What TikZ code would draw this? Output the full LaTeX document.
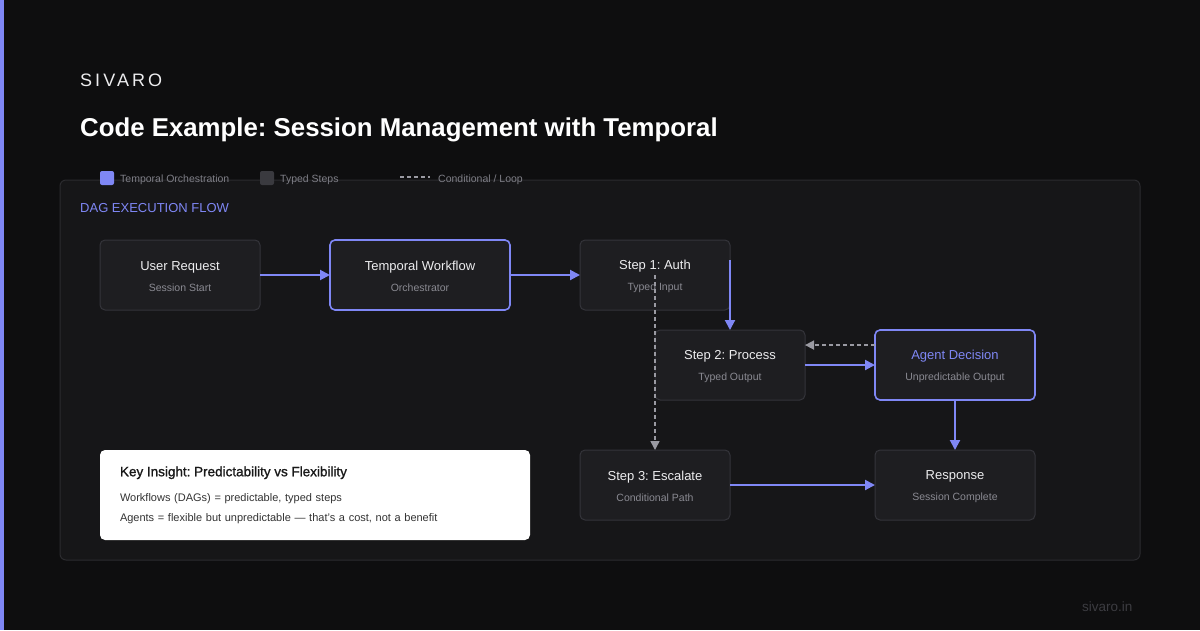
\documentclass[tikz,border=0pt]{standalone}
\usepackage{fontspec}
\setmainfont{Liberation Sans}
\newfontfamily\brandfont[LetterSpace=17]{Liberation Sans}
\newfontfamily\headfont[FakeBold=1.2]{Liberation Sans}
\usetikzlibrary{arrows.meta,positioning}
\frenchspacing
\definecolor{bgDark}{HTML}{0E0E0F}
\definecolor{panelBg}{HTML}{161618}
\definecolor{panelLine}{HTML}{2B2B2F}
\definecolor{boxBg}{HTML}{1E1E21}
\definecolor{boxLine}{HTML}{34343A}
\definecolor{accent}{HTML}{7F87F5}
\definecolor{titleWhite}{HTML}{EDEDEF}
\definecolor{subGray}{HTML}{8A8A92}
\definecolor{dashGray}{HTML}{9A9AA2}
\definecolor{legGray}{HTML}{7E7E86}
\definecolor{squareGray}{HTML}{3A3A3F}
\definecolor{footGray}{HTML}{3C3C41}
\newcommand{\boxtxt}[2]{\rule{0pt}{11.5pt}#1\\{\fontsize{10.5}{21}\selectfont\color{subGray}#2}}
\tikzset{
  stepbox/.style={rectangle, rounded corners=5pt, draw=boxLine, line width=1pt, fill=boxBg, minimum width=150pt, minimum height=70pt, align=center, text=titleWhite, font=\fontsize{13}{21}\selectfont, inner sep=0pt, outer sep=0pt},
  orchbox/.style={stepbox, draw=accent, line width=1.6pt},
  label/.style={anchor=west, inner sep=0pt},
  legsq/.style={rectangle, rounded corners=2pt, minimum size=14pt, inner sep=0pt},
  flow/.style={-{Triangle[length=10pt,width=10pt]}, line width=2pt, draw=accent},
  loop/.style={-{Triangle[length=9pt,width=9pt]}, line width=1.5pt, draw=dashGray, dash pattern=on 4pt off 3pt}
}
\begin{document}
\begin{tikzpicture}[x=1pt, y=-1pt, node distance=70pt]
  \fill[bgDark] (0,0) rectangle (1200,630);
  \useasboundingbox (0,0) rectangle (1200,630);
  \fill[accent] (0,0) rectangle (4,630);
  \node[label, text=titleWhite, font=\brandfont\fontsize{18}{18}\selectfont] (brand) at (80,80) {SIVARO};
  \node[label, text=white, font=\fontsize{25.8}{26}\selectfont\bfseries] (title) at (80,130) {Code Example: Session Management with Temporal};
  % panel
  \draw[panelLine, fill=panelBg, line width=1pt, rounded corners=6pt] (60,180) rectangle (1140,560);
  % legend
  \node[legsq, fill=accent] (legOrch) at (107,178) {};
  \node[label, text=legGray, font=\fontsize{10.5}{12}\selectfont] (legOrchTxt) at (120,180) {Temporal Orchestration};
  \node[legsq, fill=squareGray] (legStep) at (267,178) {};
  \node[label, text=legGray, font=\fontsize{10.5}{12}\selectfont] (legStepTxt) at (280,180) {Typed Steps};
  \coordinate (dashA) at (400,177);
  \coordinate (dashB) at (430,177);
  \draw[dashGray, line width=1.5pt, dash pattern=on 4pt off 3pt] (dashA) -- (dashB);
  \node[label, text=legGray, font=\fontsize{10.5}{12}\selectfont] (legLoop) at (438,180) {Conditional / Loop};
  \node[label, text=accent, font=\fontsize{13}{13}\selectfont] (flowhead) at (80,208) {DAG EXECUTION FLOW};
  % flow nodes
  \node[stepbox, minimum width=160pt] (user) at (180,275) {\boxtxt{User Request}{Session Start}};
  \node[orchbox, minimum width=180pt, right=of user] (workflow) {\boxtxt{Temporal Workflow}{Orchestrator}};
  \node[stepbox, right=of workflow] (auth) {\boxtxt{Step 1: Auth}{Typed Input}};
  \node[stepbox] (process) at (730,365) {\boxtxt{Step 2: Process}{Typed Output}};
  \node[orchbox, minimum width=160pt, right=of process, text=accent] (agent) {\boxtxt{Agent Decision}{Unpredictable Output}};
  \node[stepbox, below=140pt of auth] (escalate) {\boxtxt{Step 3: Escalate}{Conditional Path}};
  \node[stepbox, minimum width=160pt, below=50pt of agent] (response) {\boxtxt{Response}{Session Complete}};
  % connectors
  \draw[flow] (user) -- (workflow);
  \draw[flow] (workflow) -- (auth);
  \draw[flow] (auth.11.3) -- (process.north);
  \draw[flow] (process) -- (agent);
  \draw[loop] (agent.166) -- (agent.166 -| process.east);
  \draw[loop] (auth.center) -- (escalate.north);
  \draw[flow] (agent) -- (response);
  \draw[flow] (escalate) -- (response);
  % insight box
  \node[rectangle, rounded corners=5pt, fill=white, minimum width=430pt, minimum height=90pt, text width=390pt, align=left, inner sep=0pt, text=black!80, font=\fontsize{11}{20}\selectfont] (insight) at (315,495)
    {{\headfont\fontsize{13.5}{20}\selectfont\color{black!90}Key Insight: Predictability vs Flexibility}\\[5pt]
     Workflows (DAGs) = predictable, typed steps\\
     Agents = flexible but unpredictable --- that's a cost, not a benefit};
  \node[label, text=footGray, font=\fontsize{13.5}{13.5}\selectfont] (footer) at (1082,607) {sivaro.in};
\end{tikzpicture}
\end{document}
